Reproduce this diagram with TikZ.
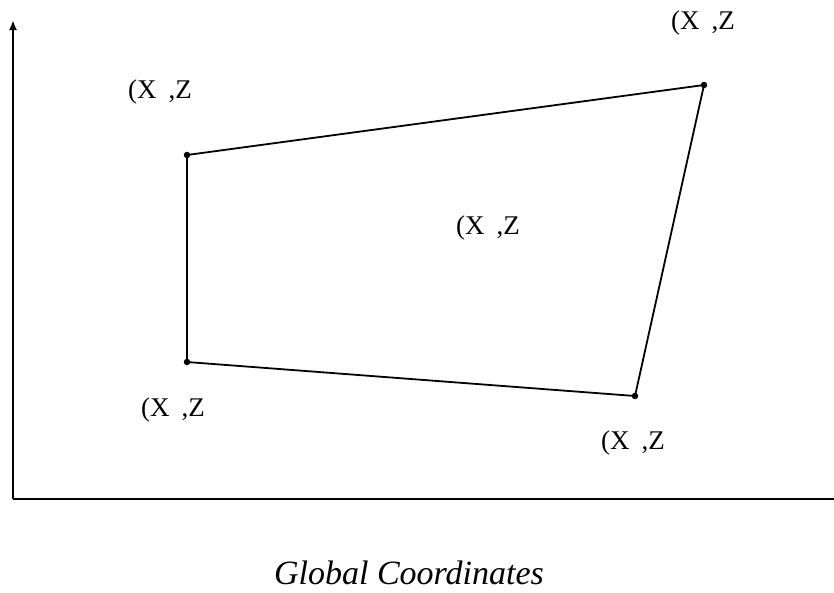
\documentclass[tikz,border=0pt]{standalone}
\usepackage{fontspec}
\setmainfont{Liberation Serif}
\usetikzlibrary{arrows.meta}
\begin{document}
\begin{tikzpicture}[x=1pt,y=-1pt,
  lbl/.style={font=\fontsize{27}{30}\selectfont, inner sep=0pt},
  vdot/.style={circle, fill=black, inner sep=0pt, minimum size=6.5pt},
  edge/.style={draw=black, line width=1.8pt}]
\useasboundingbox (0,0) rectangle (834,592);
\coordinate (o) at (13,499);
\coordinate (ytop) at (13,20);
\coordinate (xend) at (834,499);
\draw[line width=2.2pt,-{Latex[length=10pt,width=8pt]}] (o) -- (ytop);
\draw[line width=2.2pt] (o) -- (xend);
\node[vdot] (a) at (187,155) {};
\node[vdot] (b) at (704,85) {};
\node[vdot] (c) at (635,396) {};
\node[vdot] (d) at (187,362) {};
\draw[edge] (a.center) -- (b.center) -- (c.center) -- (d.center) -- (a.center);
\node[lbl] (la) at (160,92) {(X\hspace{0.45em},Z};
\node[lbl] (lb) at (703,23) {(X\hspace{0.45em},Z};
\node[lbl] (lm) at (488,228) {(X\hspace{0.45em},Z};
\node[lbl] (ld) at (173,410) {(X\hspace{0.45em},Z};
\node[lbl] (lc) at (633,443) {(X\hspace{0.45em},Z};
\node[font=\fontsize{34}{38}\selectfont\itshape, inner sep=0pt] (title) at (409,573) {Global Coordinates};
\end{tikzpicture}
\end{document}
